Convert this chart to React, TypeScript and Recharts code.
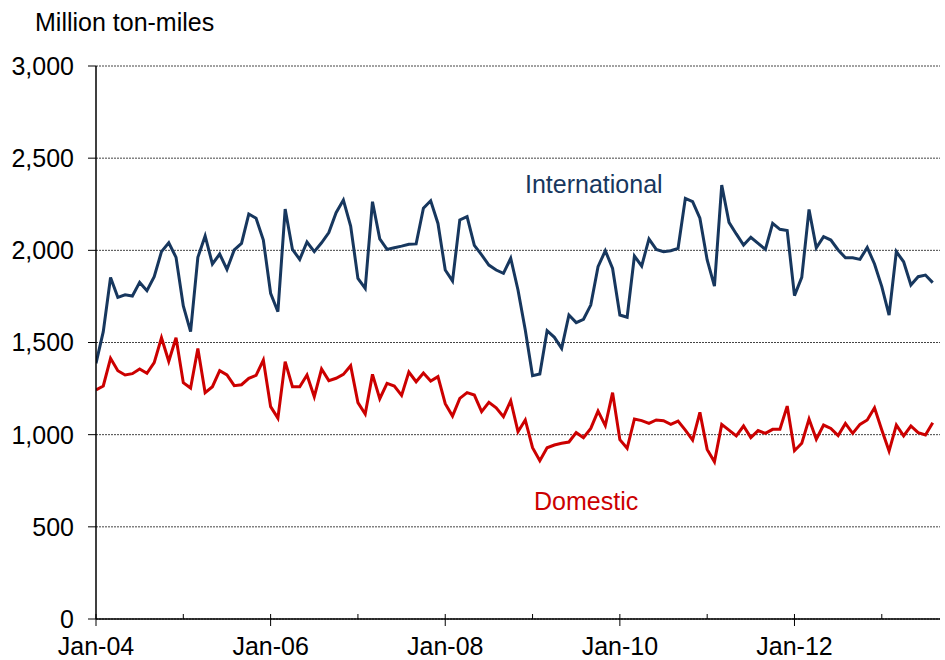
import React from "react";
import { LineChart, Line, XAxis, YAxis, CartesianGrid } from "recharts";

const international: number[] = [
  1387, 1559, 1853, 1745, 1759, 1752, 1826, 1781, 1857, 1993, 2041, 1962,
  1698, 1559, 1962, 2078, 1926, 1980, 1897, 2002, 2038, 2197, 2174, 2056,
  1767, 1667, 2224, 2005, 1951, 2045, 1993, 2041, 2096, 2204, 2273, 2132,
  1848, 1794, 2264, 2062, 2005, 2014, 2023, 2033, 2035, 2228, 2269, 2146,
  1893, 1834, 2165, 2183, 2027, 1975, 1920, 1893, 1875, 1957, 1785, 1568,
  1320, 1329, 1564, 1528, 1468, 1649, 1608, 1626, 1703, 1911, 1998, 1902,
  1649, 1637, 1969, 1915, 2062, 2005, 1993, 1998, 2011, 2282, 2264, 2174,
  1948, 1806, 2354, 2152, 2089, 2029, 2071, 2038, 2005, 2146, 2114, 2107,
  1754, 1853, 2222, 2014, 2074, 2056, 2002, 1960, 1960, 1951, 2016, 1926,
  1803, 1649, 1993, 1938, 1812, 1857, 1866, 1825,
];

const domestic: number[] = [
  1242, 1264, 1414, 1347, 1324, 1331, 1356, 1333, 1391, 1526, 1398, 1526,
  1282, 1253, 1468, 1228, 1260, 1347, 1324, 1266, 1271, 1306, 1322, 1405,
  1152, 1090, 1396, 1260, 1260, 1324, 1206, 1356, 1293, 1306, 1327, 1374,
  1174, 1112, 1327, 1195, 1278, 1264, 1213, 1340, 1287, 1334, 1291, 1315,
  1168, 1101, 1197, 1228, 1215, 1125, 1175, 1146, 1098, 1184, 1016, 1080,
  929, 859, 929, 944, 953, 960, 1011, 984, 1034, 1128, 1049, 1228,
  973, 926, 1085, 1076, 1061, 1080, 1076, 1056, 1074, 1025, 971, 1121,
  920, 853, 1056, 1025, 993, 1047, 984, 1022, 1007, 1029, 1029, 1155,
  913, 953, 1085, 975, 1052, 1034, 995, 1061, 1007, 1056, 1080, 1146,
  1025, 911, 1052, 993, 1047, 1011, 998, 1065,
];

// Year tick positions (month index from Jan-04) and labels
const yearTicks: number[] = [0, 12, 24, 36, 48, 60, 72, 84, 96, 108];
const yearLabels: string[] = ["Jan-04", "", "Jan-06", "", "Jan-08", "", "Jan-10", "", "Jan-12", ""];
const yTicks: number[] = [0, 500, 1000, 1500, 2000, 2500, 3000];

const data = international.map((v, i) => ({ m: i, international: v, domestic: domestic[i] }));

const FONT = "'Liberation Sans', Arial, sans-serif";
const NAVY = "#17375E";
const RED = "#CC0000";

const XTick = (props: any) => {
  const { x, y, payload } = props;
  const idx = yearTicks.indexOf(payload.value);
  const label = idx >= 0 ? yearLabels[idx] : "";
  const major = label !== "";
  return (
    <g>
      <line x1={x} x2={x} y1={y - 5} y2={major ? y + 7 : y} stroke="#000" strokeWidth={1} />
      {major && (
        <text x={x} y={y + 36} textAnchor="middle" fontSize={25} fontFamily={FONT} fill="#000">
          {label}
        </text>
      )}
    </g>
  );
};

export default function App() {
  return (
    <div style={{ position: "absolute", left: 0, top: 0, width: 945, height: 660, background: "#fff" }}>
      <LineChart
        width={945}
        height={660}
        data={data}
        margin={{ top: 66, right: 5, bottom: 0, left: 0 }}
      >
        <CartesianGrid horizontal vertical={false} stroke="#444" strokeDasharray="2 1" />
        <XAxis
          type="number"
          dataKey="m"
          domain={[0, 116]}
          ticks={yearTicks}
          interval={0}
          height={41}
          tickLine={false}
          tickSize={0}
          tickMargin={0}
          axisLine={{ stroke: "#000", strokeWidth: 1.5 }}
          tick={<XTick />}
          allowDataOverflow
        />
        <YAxis
          type="number"
          domain={[0, 3000]}
          ticks={yTicks}
          interval={0}
          width={96}
          tickSize={8}
          tickMargin={14}
          tickLine={{ stroke: "#000" }}
          axisLine={{ stroke: "#000", strokeWidth: 1.5 }}
          tick={{ fontSize: 25, fontFamily: FONT, fill: "#000" }}
          tickFormatter={(v: number) => v.toLocaleString("en-US")}
        />
        <Line
          type="linear"
          dataKey="international"
          stroke={NAVY}
          strokeWidth={3}
          dot={false}
          isAnimationActive={false}
        />
        <Line
          type="linear"
          dataKey="domestic"
          stroke={RED}
          strokeWidth={3}
          dot={false}
          isAnimationActive={false}
        />
      </LineChart>
      <svg
        width={945}
        height={660}
        style={{ position: "absolute", left: 0, top: 0, pointerEvents: "none" }}
      >
        <text x={35} y={31} fontSize={25} fontFamily={FONT} fill="#000">
          Million ton-miles
        </text>
        <text x={525} y={193} fontSize={25} fontFamily={FONT} fill={NAVY}>
          International
        </text>
        <text x={534} y={510} fontSize={25} fontFamily={FONT} fill={RED}>
          Domestic
        </text>
      </svg>
    </div>
  );
}
